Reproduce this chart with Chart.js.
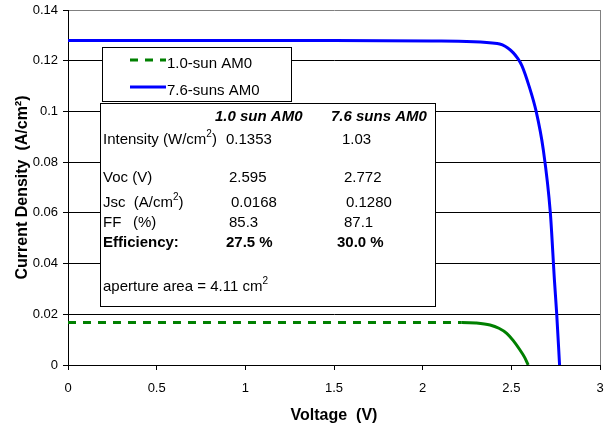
<!DOCTYPE html>
<html>
<head>
<meta charset="utf-8">
<script src="https://cdn.jsdelivr.net/npm/chart.js@4/dist/chart.umd.min.js"></script>
<style>
  body { margin: 0; background: #fff; }
  #wrap { width: 605px; height: 427px; }
</style>
</head>
<body>
<div id="wrap"><canvas id="ivChart" width="605" height="427"></canvas></div>
<script>
// I-V curves (voltage in V, current density in A/cm2)
const oneSunVoltage = [0, 0.5, 1.0, 1.5, 2.0, 2.22, 2.3, 2.38, 2.43, 2.474, 2.51, 2.549, 2.575, 2.595];
const oneSunCurrent = [0.0168, 0.0168, 0.0168, 0.0168, 0.0168, 0.0168, 0.0166, 0.0158, 0.0145, 0.0125, 0.0097, 0.0059, 0.003, 0];
const sevenSunVoltage = [0, 0.5, 1.0, 1.5, 2.05, 2.42, 2.45, 2.48, 2.51, 2.535, 2.56, 2.6, 2.64, 2.68, 2.72, 2.743, 2.756, 2.772];
const sevenSunCurrent = [0.128, 0.128, 0.128, 0.128, 0.1278, 0.1268, 0.1262, 0.1250, 0.1232, 0.1210, 0.1180, 0.11, 0.1, 0.085, 0.06, 0.0335, 0.02, 0];

const seriesNames = ["1.0-sun AM0", "7.6-suns AM0"];
const seriesColors = ["#008000", "#0000ff"];
const xTickLabels = ["0", "0.5", "1", "1.5", "2", "2.5", "3"];
const yTickLabels = ["0", "0.02", "0.04", "0.06", "0.08", "0.1", "0.12", "0.14"];

// the results table inside the plot
const tableHeaders = ["1.0 sun AM0", "7.6 suns AM0"];
const rowIntensity = ["0.1353", "1.03"];
const rowVoc = ["2.595", "2.772"];
const rowJsc = ["0.0168", "0.1280"];
const rowFF = ["85.3", "87.1"];
const rowEfficiency = ["27.5 %", "30.0 %"];
const apertureArea = "4.11";

const FONT = "'Liberation Sans', Arial, sans-serif";

function toPoints(xs, ys) {
  return xs.map((x, i) => ({ x: x, y: ys[i] }));
}

// draws text pieces, some of them as superscripts
function drawRuns(ctx, x, y, runs, style) {
  let cx = x;
  runs.forEach((r) => {
    if (r.sup) {
      ctx.font = style + " 10px " + FONT;
      ctx.fillText(r.t, cx, y - 6);
    } else {
      ctx.font = style + " 15px " + FONT;
      ctx.fillText(r.t, cx, y);
    }
    cx += ctx.measureText(r.t).width;
  });
}

const boxesPlugin = {
  id: "boxes",
  afterDatasetsDraw(chart) {
    const ctx = chart.ctx;
    ctx.save();

    // legend box
    ctx.fillStyle = "#fff";
    ctx.fillRect(102.5, 47.5, 189, 54);
    ctx.strokeStyle = "#000";
    ctx.lineWidth = 1;
    ctx.strokeRect(102.5, 47.5, 189, 54);
    chart.data.datasets.forEach((ds, i) => {
      const y = 60 + i * 27;
      ctx.beginPath();
      ctx.setLineDash(i === 0 ? [8, 7] : []);
      ctx.strokeStyle = ds.borderColor;
      ctx.lineWidth = 3;
      ctx.moveTo(130, y);
      ctx.lineTo(166, y);
      ctx.stroke();
      ctx.setLineDash([]);
      ctx.fillStyle = "#000";
      ctx.font = "15px " + FONT;
      ctx.textBaseline = "middle";
      ctx.fillText(ds.label, 167, y + 4);
    });

    // table box
    ctx.fillStyle = "#fff";
    ctx.fillRect(100.5, 103.5, 335, 203);
    ctx.strokeStyle = "#000";
    ctx.lineWidth = 1;
    ctx.strokeRect(100.5, 103.5, 335, 203);

    ctx.fillStyle = "#000";
    ctx.textBaseline = "middle";
    ctx.textAlign = "left";

    ctx.font = "italic bold 15px " + FONT;
    ctx.fillText(tableHeaders[0], 215, 117);
    ctx.fillText(tableHeaders[1], 331, 117);

    drawRuns(ctx, 103, 140, [{ t: "Intensity (W/cm" }, { t: "2", sup: true }, { t: ")" }], "");
    ctx.font = "15px " + FONT;
    ctx.fillText(rowIntensity[0], 226, 140);
    ctx.fillText(rowIntensity[1], 342, 140);

    ctx.fillText("Voc (V)", 103, 178);
    ctx.fillText(rowVoc[0], 229, 178);
    ctx.fillText(rowVoc[1], 344, 178);

    drawRuns(ctx, 103, 203, [{ t: "Jsc  (A/cm" }, { t: "2", sup: true }, { t: ")" }], "");
    ctx.font = "15px " + FONT;
    ctx.fillText(rowJsc[0], 231, 203);
    ctx.fillText(rowJsc[1], 346, 203);

    ctx.fillText("FF", 103, 223);
    ctx.fillText("(%)", 133, 223);
    ctx.fillText(rowFF[0], 229, 223);
    ctx.fillText(rowFF[1], 344, 223);

    ctx.font = "bold 15px " + FONT;
    ctx.fillText("Efficiency:", 103, 243);
    ctx.fillText(rowEfficiency[0], 226, 243);
    ctx.fillText(rowEfficiency[1], 337, 243);

    drawRuns(ctx, 103, 287, [{ t: "aperture area = " + apertureArea + " cm" }, { t: "2", sup: true }], "");

    ctx.restore();
  },
};

const ctx = document.getElementById("ivChart").getContext("2d");

const ivChart = new Chart(ctx, {
  type: "line",
  data: {
    datasets: [
      {
        label: seriesNames[0],
        data: toPoints(oneSunVoltage, oneSunCurrent),
        borderColor: seriesColors[0],
        borderWidth: 3,
        pointRadius: 0,
        cubicInterpolationMode: "monotone",
        segment: {
          // flat part is dashed, the knee is drawn solid
          borderDash: (c) => (c.p1.parsed.x <= 2.22 ? [8, 7] : []),
        },
      },
      {
        label: seriesNames[1],
        data: toPoints(sevenSunVoltage, sevenSunCurrent),
        borderColor: seriesColors[1],
        borderWidth: 3,
        pointRadius: 0,
        cubicInterpolationMode: "monotone",
      },
    ],
  },
  options: {
    responsive: false,
    animation: false,
    layout: { padding: { top: 10, right: 5, left: 0, bottom: 0 } },
    plugins: {
      legend: { display: false },
      tooltip: { enabled: false },
    },
    scales: {
      x: {
        type: "linear",
        min: 0,
        max: 3,
        afterFit: (s) => {
          s.height = 62;
          s.paddingLeft = 0;
          s.paddingRight = 0;
        },
        ticks: {
          stepSize: 0.5,
          color: "#000",
          padding: 11,
          font: { family: FONT, size: 13 },
          callback: (v, i) => xTickLabels[i],
        },
        grid: {
          color: (c) => (c.tick && c.tick.value === 3 ? "#808080" : "rgba(0,0,0,0)"),
          tickColor: "#000",
          tickLength: 5,
        },
        border: { color: "#000", width: 1 },
        title: {
          display: true,
          text: "Voltage  (V)",
          color: "#000",
          font: { family: FONT, size: 16, weight: "bold" },
          padding: { top: 0, bottom: 2 },
        },
      },
      y: {
        type: "linear",
        min: 0,
        max: 0.14,
        afterFit: (s) => {
          s.width = 68;
          s.paddingTop = 0;
          s.paddingBottom = 0;
        },
        ticks: {
          stepSize: 0.02,
          color: "#000",
          padding: 5,
          font: { family: FONT, size: 13 },
          callback: (v, i) => yTickLabels[i],
        },
        grid: {
          color: (c) => (c.tick && c.tick.value > 0.139 ? "#808080" : "#000"),
          tickColor: "#000",
          tickLength: 5,
        },
        border: { color: "#000", width: 1 },
        title: {
          display: true,
          text: "Current Density  (A/cm²)",
          color: "#000",
          font: { family: FONT, size: 16, weight: "bold" },
          padding: { top: 13, bottom: 0 },
        },
      },
    },
  },
  plugins: [boxesPlugin],
});
</script>
</body>
</html>
